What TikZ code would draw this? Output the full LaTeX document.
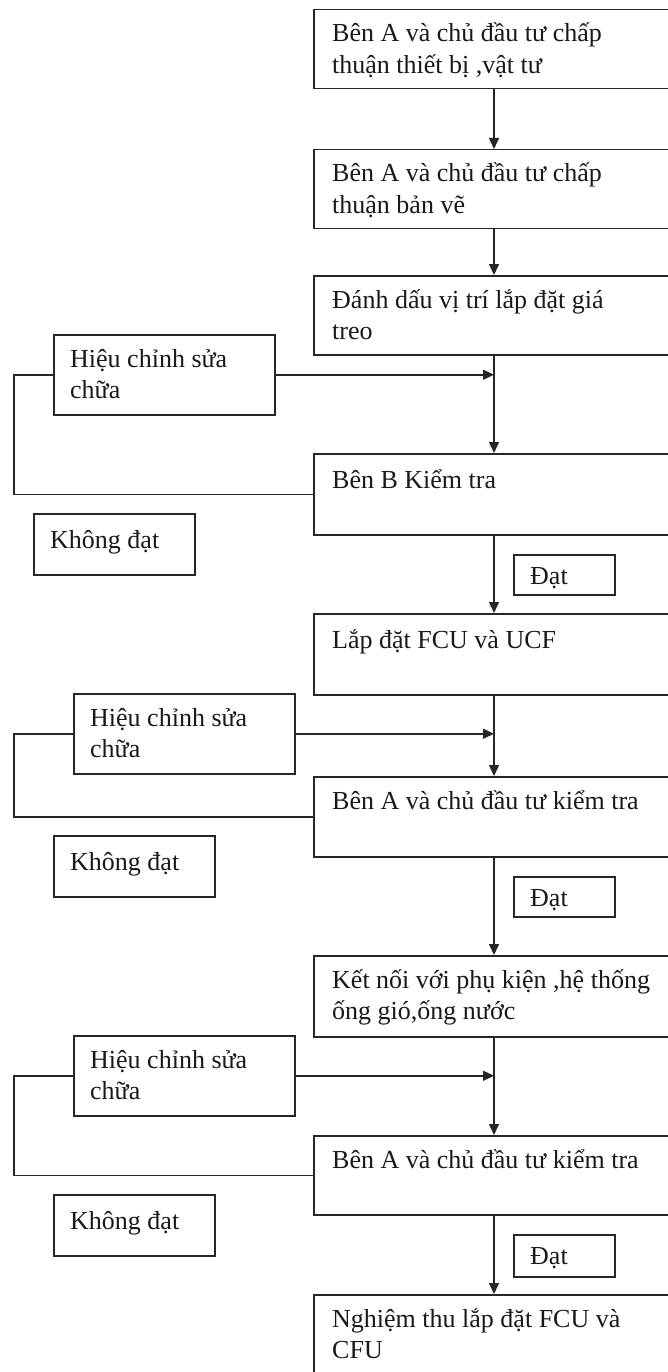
\documentclass[tikz,border=0pt]{standalone}
\usepackage{fontspec}
\setmainfont{Liberation Serif}
\usetikzlibrary{arrows.meta,calc}
\definecolor{linec}{gray}{0.15}
\tikzset{
  box/.style={draw=linec, line width=1.5pt, rectangle, inner sep=0pt, anchor=north west, fill=white},
  txt/.style={anchor=base west, inner sep=0pt, text=black!90, font=\fontsize{26}{31.5}\selectfont},
  flow/.style={draw=linec, line width=1.5pt, -{Triangle[length=11pt,width=10pt]}},
  link/.style={draw=linec, line width=1.5pt},
}
\begin{document}
\begin{tikzpicture}[x=1pt,y=-1pt]
\fill[white] (0,0) rectangle (667,1372);
\useasboundingbox (0,0) rectangle (667,1372);
\coordinate (vx) at (494,0);
\coordinate (lx) at (14,0);
% main column boxes
\node[box, minimum width=387pt, minimum height=79pt] (b1) at (313,9) {};
\node[box, minimum width=387pt, minimum height=79pt] (b2) at (313,149) {};
\node[box, minimum width=387pt, minimum height=79pt] (b3) at (313,275) {};
\node[box, minimum width=387pt, minimum height=81pt] (b4) at (313,453) {};
\node[box, minimum width=387pt, minimum height=81pt] (b5) at (313,613) {};
\node[box, minimum width=387pt, minimum height=80pt] (b6) at (313,776) {};
\node[box, minimum width=387pt, minimum height=81pt] (b7) at (313,955) {};
\node[box, minimum width=387pt, minimum height=79pt] (b8) at (313,1135) {};
\node[box, minimum width=387pt, minimum height=126pt] (b9) at (313,1294) {};
% correction boxes
\node[box, minimum width=221pt, minimum height=80pt] (h1) at (53,334) {};
\node[box, minimum width=221pt, minimum height=80pt] (h2) at (73,693) {};
\node[box, minimum width=221pt, minimum height=80pt] (h3) at (73,1035) {};
% fail boxes
\node[box, minimum width=161pt, minimum height=61pt] (k1) at (33,513) {};
\node[box, minimum width=161pt, minimum height=61pt] (k2) at (53,835) {};
\node[box, minimum width=161pt, minimum height=61pt] (k3) at (53,1194) {};
% pass boxes
\node[box, minimum width=101pt, minimum height=40pt] (d1) at (513,554) {};
\node[box, minimum width=101pt, minimum height=40pt] (d2) at (513,876) {};
\node[box, minimum width=101pt, minimum height=42pt] (d3) at (513,1234) {};
% texts
\node[txt] (t1) at ($(b1.north west)+(19,33)$) {\parbox[t]{380pt}{Bên A và chủ đầu tư chấp\\thuận thiết bị ,vật tư}};
\node[txt] (t2) at ($(b2.north west)+(19,33)$) {\parbox[t]{380pt}{Bên A và chủ đầu tư chấp\\thuận bản vẽ}};
\node[txt] (t3) at ($(b3.north west)+(19,33)$) {\parbox[t]{380pt}{Đánh dấu vị trí lắp đặt giá\\treo}};
\node[txt] (t4) at ($(b4.north west)+(19,35)$) {Bên B Kiểm tra};
\node[txt] (t5) at ($(b5.north west)+(19,35)$) {Lắp đặt FCU và UCF};
\node[txt] (t6) at ($(b6.north west)+(19,33)$) {Bên A và chủ đầu tư kiểm tra};
\node[txt] (t7) at ($(b7.north west)+(19,33)$) {\parbox[t]{380pt}{Kết nối với phụ kiện ,hệ thống\\ống gió,ống nước}};
\node[txt] (t8) at ($(b8.north west)+(19,33)$) {Bên A và chủ đầu tư kiểm tra};
\node[txt] (t9) at ($(b9.north west)+(19,33)$) {\parbox[t]{380pt}{Nghiệm thu lắp đặt FCU và\\CFU}};
\node[txt] (th1) at ($(h1.north west)+(17,33)$) {\parbox[t]{200pt}{Hiệu chỉnh sửa\\chữa}};
\node[txt] (th2) at ($(h2.north west)+(17,33)$) {\parbox[t]{200pt}{Hiệu chỉnh sửa\\chữa}};
\node[txt] (th3) at ($(h3.north west)+(17,33)$) {\parbox[t]{200pt}{Hiệu chỉnh sửa\\chữa}};
\node[txt] (tk1) at ($(k1.north west)+(17,35)$) {Không đạt};
\node[txt] (tk2) at ($(k2.north west)+(17,35)$) {Không đạt};
\node[txt] (tk3) at ($(k3.north west)+(17,35)$) {Không đạt};
\node[txt] (td1) at ($(d1.north west)+(17,30)$) {Đạt};
\node[txt] (td2) at ($(d2.north west)+(17,30)$) {Đạt};
\node[txt] (td3) at ($(d3.north west)+(17,30)$) {Đạt};
% main flow
\draw[flow] (b1.south -| vx) -- (b2.north -| vx);
\draw[flow] (b2.south -| vx) -- (b3.north -| vx);
\draw[flow] (b3.south -| vx) -- (b4.north -| vx);
\draw[flow] (b4.south -| vx) -- (b5.north -| vx);
\draw[flow] (b5.south -| vx) -- (b6.north -| vx);
\draw[flow] (b6.south -| vx) -- (b7.north -| vx);
\draw[flow] (b7.south -| vx) -- (b8.north -| vx);
\draw[flow] (b8.south -| vx) -- (b9.north -| vx);
% correction inputs
\draw[flow] (h1.east) -- (h1.east -| vx);
\draw[flow] (h2.east) -- (h2.east -| vx);
\draw[flow] (h3.east) -- (h3.east -| vx);
% feedback loops
\draw[link] (h1.west) -- (h1.west -| lx) |- (b4.west);
\draw[link] (h2.west) -- (h2.west -| lx) |- (b6.west);
\draw[link] (h3.west) -- (h3.west -| lx) |- (b8.west);
\end{tikzpicture}
\end{document}
